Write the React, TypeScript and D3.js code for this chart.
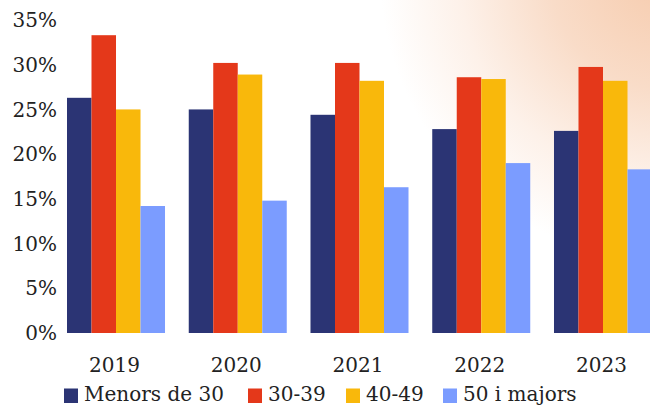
import { useEffect, useRef } from 'react';
import * as d3 from 'd3';

const years = ['2019', '2020', '2021', '2022', '2023'];
const groups = ['Menors de 30', '30-39', '40-49', '50 i majors'];
const menors30 = [26.3, 25.0, 24.4, 22.8, 22.6];
const de30a39 = [33.3, 30.2, 30.2, 28.6, 29.75];
const de40a49 = [25.0, 28.9, 28.2, 28.4, 28.2];
const majors50 = [14.2, 14.8, 16.3, 19.0, 18.3];
const yTicks = [0, 5, 10, 15, 20, 25, 30, 35];

const colors = ['#2b3474', '#e4381a', '#f9b80b', '#7b9cff'];
const FONT = '"DejaVu Serif", serif';

const WIDTH = 650;
const HEIGHT = 406;

export default function App() {
  const ref = useRef<SVGSVGElement | null>(null);

  useEffect(() => {
    if (!ref.current) return;
    const svg = d3.select(ref.current);
    svg.selectAll('*').remove();

    const series = [menors30, de30a39, de40a49, majors50];

    // soft peach glow in the top right corner
    const defs = svg.append('defs');
    const grad = defs
      .append('radialGradient')
      .attr('id', 'glow')
      .attr('gradientUnits', 'userSpaceOnUse')
      .attr('cx', 665)
      .attr('cy', -25)
      .attr('r', 285);
    grad.append('stop').attr('offset', '0%').attr('stop-color', '#f6cbad');
    grad.append('stop').attr('offset', '40%').attr('stop-color', '#f9dcc8');
    grad.append('stop').attr('offset', '72%').attr('stop-color', '#fdf1e9');
    grad.append('stop').attr('offset', '100%').attr('stop-color', '#ffffff');

    svg.append('rect').attr('width', WIDTH).attr('height', HEIGHT).attr('fill', '#ffffff');
    svg.append('rect').attr('width', WIDTH).attr('height', HEIGHT).attr('fill', 'url(#glow)');

    const x0 = d3.scaleBand().domain(years).range([67, 652]).paddingInner(0.195).paddingOuter(0);
    const x1 = d3.scaleBand().domain(groups).range([0, x0.bandwidth()]);
    const y = d3.scaleLinear().domain([0, 35]).range([333, 20]);

    // y labels
    svg
      .append('g')
      .selectAll('text')
      .data(yTicks)
      .join('text')
      .attr('x', 57)
      .attr('y', (d) => y(d))
      .attr('dy', '0.36em')
      .attr('text-anchor', 'end')
      .style('font-family', FONT)
      .style('font-size', '20px')
      .attr('fill', '#222')
      .text((d) => `${d}%`);

    // bars
    years.forEach((yr, i) => {
      series.forEach((s, j) => {
        svg
          .append('rect')
          .attr('x', (x0(yr) || 0) + (x1(groups[j]) || 0))
          .attr('y', y(s[i]))
          .attr('width', x1.bandwidth())
          .attr('height', y(0) - y(s[i]))
          .attr('fill', colors[j]);
      });
    });

    // x labels
    svg
      .append('g')
      .selectAll('text')
      .data(years)
      .join('text')
      .attr('x', (d) => (x0(d) || 0) + x0.bandwidth() / 2 - 1.5)
      .attr('y', 371.5)
      .attr('text-anchor', 'middle')
      .style('font-family', FONT)
      .style('font-size', '20px')
      .attr('fill', '#222')
      .text((d) => d);

    // legend
    const legendX = [64, 248, 346, 443];
    const legend = svg.append('g');
    groups.forEach((g, j) => {
      const item = legend.append('g').attr('transform', `translate(${legendX[j]}, 0)`);
      item.append('rect').attr('x', 0).attr('y', 388.5).attr('width', 14).attr('height', 14.5).attr('fill', colors[j]);
      item
        .append('text')
        .attr('x', 20)
        .attr('y', 401)
        .style('font-family', FONT)
        .style('font-size', '20px')
        .attr('fill', '#222')
        .text(g);
    });
  }, []);

  return (
    <svg
      ref={ref}
      width={WIDTH}
      height={HEIGHT}
      style={{ position: 'fixed', top: 0, left: 0, display: 'block' }}
    />
  );
}
